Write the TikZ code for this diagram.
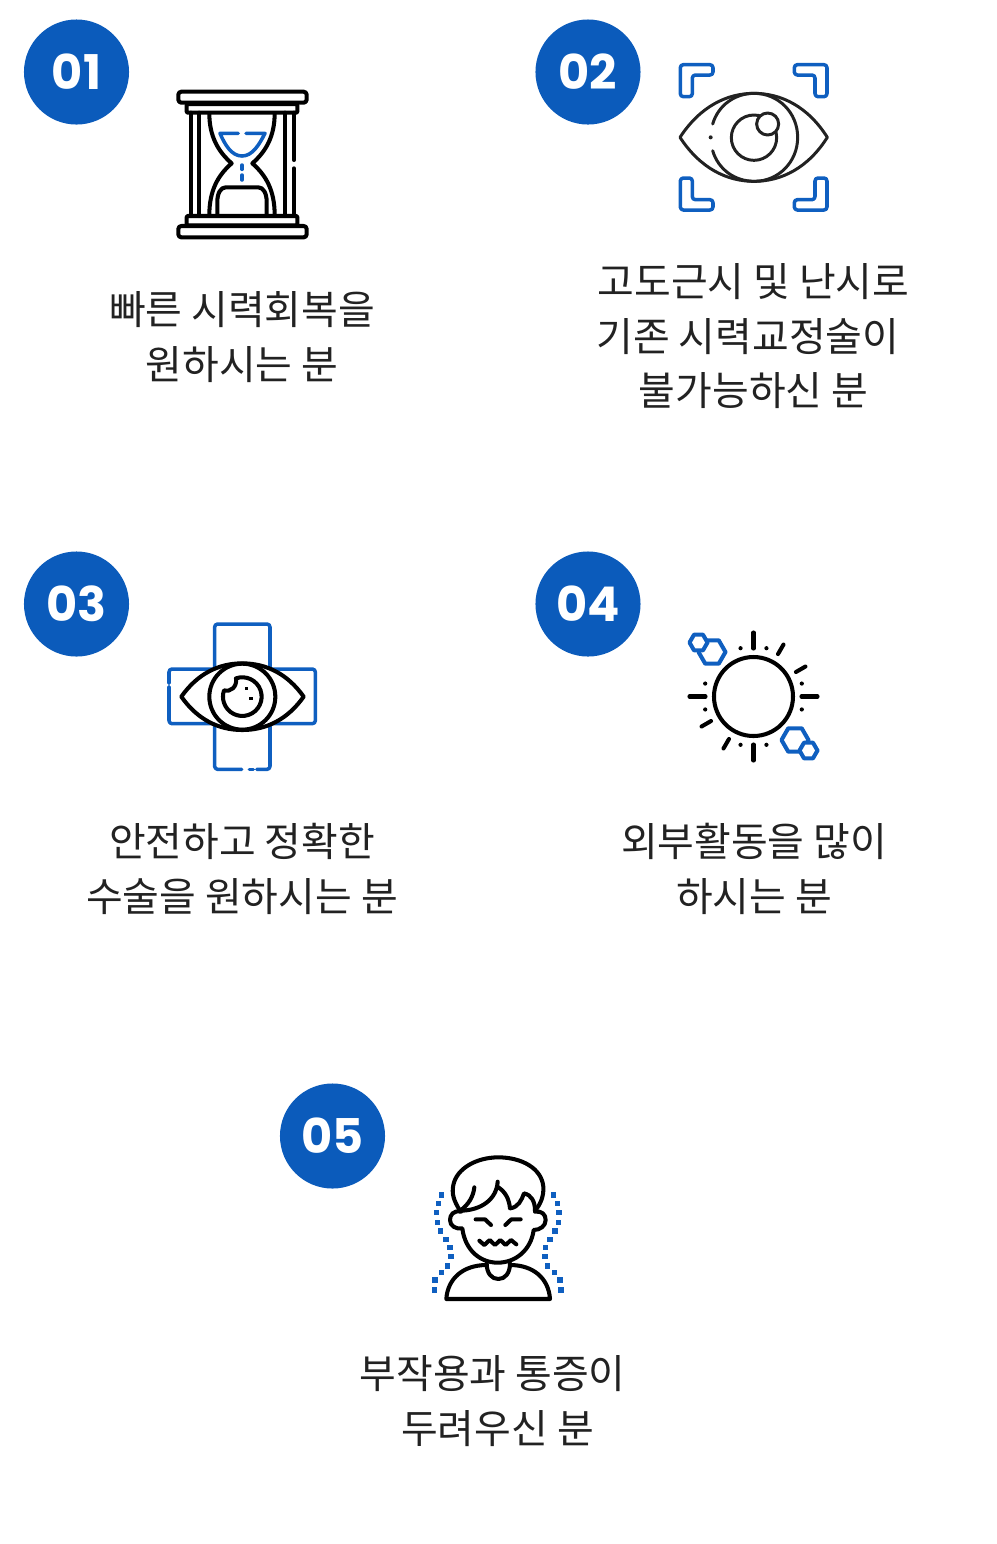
\documentclass[tikz,border=0pt]{standalone}
\usepackage{fontspec}
\setmainfont{Noto Sans CJK KR}
\newfontfamily\numfont{Poppins}
\definecolor{badgeblue}{HTML}{0B5BBB}
\definecolor{iconblue}{HTML}{0F5FC0}
\definecolor{capgray}{HTML}{222222}
\tikzset{
    badge/.style={circle,fill=badgeblue,text=white,minimum size=10.5mm,inner sep=0pt,font=\numfont\bfseries\fontsize{13.6}{16}\selectfont},
    caption/.style={align=center,text=capgray,font=\fontsize{11.35}{15.5}\selectfont},
    thick line/.style={line width=1.15pt,line cap=round,line join=round},
    thin line/.style={line width=0.85pt,line cap=round,line join=round,draw=capgray},
    blue line/.style={line width=1pt,line cap=round,line join=round,draw=iconblue}
}
\begin{document}
\begin{tikzpicture}[x=0.01cm,y=-0.01cm]
    \useasboundingbox (0,0) rectangle (996,1544);

    \node[badge] (badgeA) at (76.5,72) {\raisebox{-0.5pt}{01}};
    \node[badge] (badgeB) at (588,72) {\raisebox{-0.5pt}{02}};
    \node[badge] (badgeC) at (76.5,604) {\raisebox{-0.5pt}{03}};
    \node[badge] (badgeD) at (588,604) {\raisebox{-0.5pt}{04}};
    \node[badge] (badgeE) at (332.5,1136) {\raisebox{-0.5pt}{05}};

    \node[caption] (textA) at (242,337) {빠른 시력회복을\\원하시는 분};
    \node[caption] (textB) at (753.5,336.5) {고도근시 및 난시로\\기존 시력교정술이\kern3.2pt\\불가능하신 분};
    \node[caption] (textC) at (242,869) {안전하고 정확한\\수술을 원하시는 분};
    \node[caption] (textD) at (754,869) {외부활동을 많이\\하시는 분};
    \node[caption] (textE) at (497.5,1401) {부작용과 통증이\hspace*{2.8pt}\\두려우신 분};

    % hourglass
    \begin{scope}[shift={(160,80)},scale=1/3]
        \draw[thick line,rounded corners=0.3mm] (55,35) rectangle (440,68);
        \draw[thick line,rounded corners=0.1mm] (80,72) rectangle (412,98);
        \draw[thick line,rounded corners=0.1mm] (80,408) rectangle (412,436);
        \draw[thick line,rounded corners=0.3mm] (55,438) rectangle (440,472);
        \draw[thick line] (92,98) -- (92,408) (118,98) -- (118,408) (375,98) -- (375,408);
        \draw[thick line] (402,98) -- (402,240) (402,265) -- (402,408);
        \draw[thick line] (148,100) .. controls (148,170) and (175,215) .. (215,250)
            .. controls (175,285) and (148,330) .. (148,405);
        \draw[thick line] (344,100) .. controls (344,170) and (317,215) .. (277,250)
            .. controls (317,285) and (344,330) .. (344,405);
        \draw[thick line] (172,405) -- (172,365) .. controls (172,340) and (182,322) .. (197,322)
            -- (295,322) .. controls (310,322) and (320,340) .. (320,365) -- (320,405);
        \draw[blue line] (235,160) -- (180,160) .. controls (195,195) and (215,228) .. (246,228)
            .. controls (277,228) and (297,195) .. (315,160) -- (258,160);
        \draw[blue line] (246,255) -- (246,268) (246,285) -- (246,300);
    \end{scope}

    % eye with focus corners
    \begin{scope}[shift={(670,55)},scale=1/3]
        \draw[thin line] (30,247) .. controls (90,155) and (170,115) .. (252,115)
            .. controls (334,115) and (414,155) .. (472,247)
            .. controls (414,339) and (334,379) .. (252,379)
            .. controls (170,379) and (90,339) .. (30,247) -- cycle;
        \draw[thin line] (128,207) .. controls (145,150) and (195,115) .. (253,115)
            .. controls (325,115) and (383,173) .. (383,247)
            .. controls (383,321) and (325,379) .. (253,379)
            .. controls (195,379) and (145,344) .. (128,287);
        \draw[thin line] (252,248) circle (68);
        \draw[thin line,fill=white] (293,207) circle (33);
        \fill[capgray] (122,247) circle (6);
        \foreach \sx/\sy in {1/1,-1/1,1/-1,-1/-1}
            \draw[blue line,rounded corners=0.3mm,shift={(251,247)},xscale=\sx,yscale=\sy]
                (-220,-122) -- (-220,-218) -- (-122,-218) -- (-122,-187) -- (-184,-187) -- (-184,-122) -- cycle;
    \end{scope}

    % eye on medical cross
    \begin{scope}[shift={(160,615)},scale=1/3]
        \draw[blue line,rounded corners=0.3mm] (27,205) -- (27,162) -- (466,162) -- (466,326) -- (27,326) -- (27,215);
        \draw[blue line,rounded corners=0.3mm] (245,463) -- (164,463) -- (164,27) -- (330,27) -- (330,463) -- (290,463);
        \draw[blue line] (268,463) -- (280,463);
        \draw[thick line,fill=white] (64,245) .. controls (112,177) and (175,145) .. (247,145)
            .. controls (319,145) and (383,177) .. (431,245)
            .. controls (383,313) and (319,345) .. (247,345)
            .. controls (175,345) and (112,313) .. (64,245) -- cycle;
        \draw[thick line] (247,245) circle (99);
        \draw[thick line] (228,190) arc[start angle=-109,end angle=199,radius=58]
            .. controls (212,232) and (232,215) .. (228,190);
        \fill (264,226) rectangle +(-9,-9);
        \fill (278,255) rectangle +(-10,-10);
    \end{scope}

    % sun and particles
    \begin{scope}[shift={(753.5,696.5)}]
        \draw[thick line] (0,0) circle (39.5);
        \foreach \ang in {0,90,180,270}
            \draw[thick line] (\ang:48) -- (\ang:64);
        \foreach \ang in {-60,-30,120,150}
            \draw[thick line] (\ang:49) -- (\ang:60);
        \foreach \ang in {105,75,45,15,-15,-75,-105,-135,-165,165}
            \fill (\ang:50) circle (2.1);
        \foreach \cx/\cy/\rad in {-41.5/-44.5/13.5,41.5/43.5/13.5,-55/-54/9,55/54/9}
            \draw[blue line,line width=1.15pt,fill=white,shift={(\cx,\cy)}] (0:\rad) -- (60:\rad) -- (120:\rad) -- (180:\rad) -- (240:\rad) -- (300:\rad) -- cycle;
    \end{scope}

    % person in pain
    \begin{scope}[shift={(425,1150)},scale=1/3]
        \draw[thick line] (105,182) .. controls (85,150) and (80,130) .. (85,105)
            .. controls (95,55) and (155,22) .. (220,22)
            .. controls (290,22) and (350,55) .. (355,110)
            .. controls (357,140) and (345,165) .. (330,182);
        \draw[thick line] (105,182) .. controls (165,182) and (215,150) .. (218,95);
        \draw[thick line] (148,112) .. controls (145,140) and (130,165) .. (105,182);
        \draw[thick line] (220,112) .. controls (240,125) and (252,145) .. (255,175)
            .. controls (280,172) and (290,150) .. (297,130)
            .. controls (320,135) and (330,155) .. (330,182);
        \draw[thick line] (108,185) .. controls (85,180) and (75,195) .. (75,210)
            .. controls (75,228) and (92,238) .. (112,235)
            .. controls (120,300) and (165,338) .. (218,338)
            .. controls (272,338) and (318,300) .. (326,240)
            .. controls (345,240) and (362,228) .. (362,210)
            .. controls (362,193) and (350,182) .. (330,185);
        \draw[thick line] (185,340) .. controls (185,370) and (200,387) .. (220,387)
            .. controls (240,387) and (255,370) .. (255,340);
        \draw[thick line] (185,345) .. controls (115,345) and (68,385) .. (64,447)
            -- (375,447) .. controls (371,385) and (325,345) .. (255,345);
        \draw[thick line] (152,208) -- (180,208) -- (198,225);
        \draw[thick line] (287,208) -- (259,208) -- (241,225);
        \draw[thick line] (163,272) -- (178,285) -- (194,270) -- (210,285) -- (226,270) -- (242,285) -- (258,270) -- (274,283);
        \foreach \px/\py in {50/135,40/160,35/188,38/218,47/243,63/268,75/293,78/320,68/348,50/368,30/390,28/420,385/135,398/160,402/188,400/218,390/243,375/268,362/293,360/320,368/348,388/368,405/390,408/420}
            \fill[iconblue] (\px-8,\py-8) rectangle (\px+8,\py+8);
    \end{scope}
\end{tikzpicture}
\end{document}
